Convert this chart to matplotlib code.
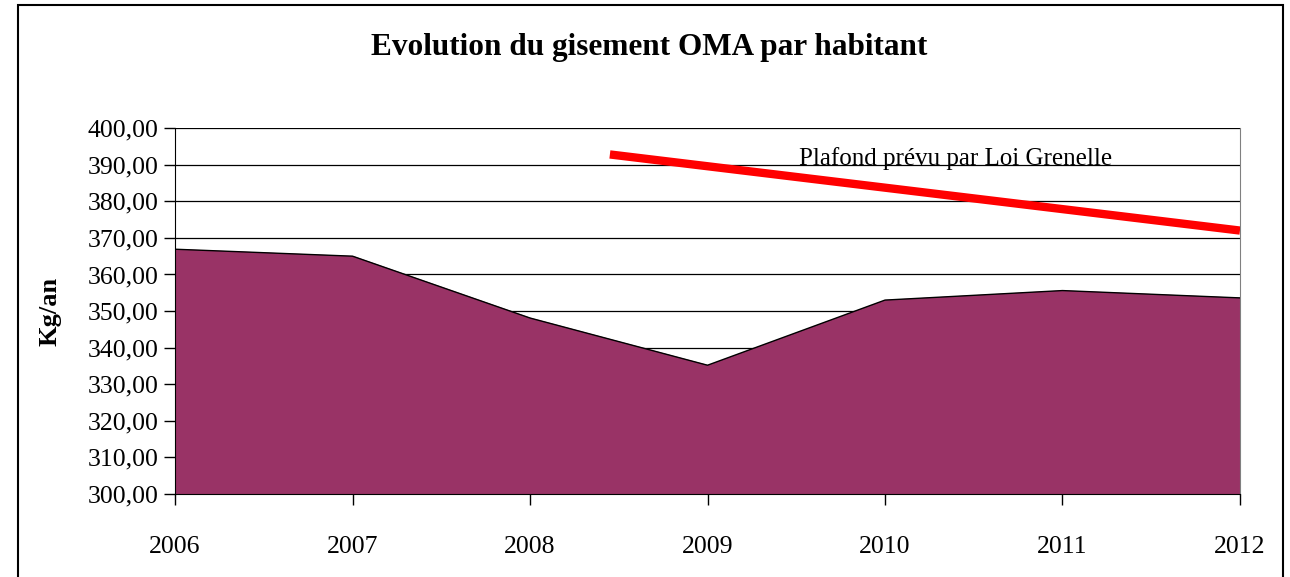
import matplotlib.pyplot as plt
from matplotlib.patches import Rectangle
from matplotlib.ticker import FuncFormatter

years = [2006, 2007, 2008, 2009, 2010, 2011, 2012]
gisement = [366.9, 365.0, 348.1, 335.2, 353.0, 355.6, 353.6]

# red "ceiling" line, drawn as a free segment in the original
plafond_x = [2008.45, 2012.0]
plafond_y = [392.8, 372.0]

plt.rcParams['font.family'] = ['Liberation Serif', 'DejaVu Serif']

fig = plt.figure(figsize=(12.9, 5.77), dpi=100)
ax = fig.add_axes([0.1357, 0.1438, 0.8255, 0.6342])

ax.fill_between(years, 300, gisement, color='#993366', zorder=2)
ax.plot(years, gisement, color='black', linewidth=1, zorder=3)
ax.plot(plafond_x, plafond_y, color='#ff0000', linewidth=6, solid_capstyle='butt', zorder=4)
ax.text(2010.4, 391.8, 'Plafond prévu par Loi Grenelle', fontsize=18,
        ha='center', va='center', zorder=5)

ax.set_xlim(2006, 2012)
ax.set_ylim(300, 400)
ax.set_xticks(years)
ax.set_yticks(range(300, 401, 10))
ax.yaxis.set_major_formatter(FuncFormatter(lambda v, p: f'{v:.2f}'.replace('.', ',')))
ax.grid(axis='y', color='black', linewidth=0.9, zorder=1)
ax.tick_params(axis='both', labelsize=18.5, direction='out', length=8, width=1, color='black')
ax.tick_params(axis='x', pad=22)
ax.tick_params(axis='y', pad=4)

ax.spines['top'].set_visible(False)
ax.spines['right'].set_color('#808080')
ax.spines['left'].set_color('black')
ax.spines['bottom'].set_color('black')

ax.set_ylabel('Kg/an', fontsize=19, fontweight='bold')
ax.yaxis.set_label_coords(-0.107, 0.5)

fig.text(0.503, 0.918, 'Evolution du gisement OMA par habitant', fontsize=22.5,
         fontweight='bold', ha='center', va='center')

# outer chart frame
fig.patches.append(Rectangle((18 / 1290, -0.05), 1265 / 1290, 1.05 - 5 / 577,
                             transform=fig.transFigure, fill=False,
                             edgecolor='black', linewidth=1.5))

plt.savefig('out.png', dpi=100)
